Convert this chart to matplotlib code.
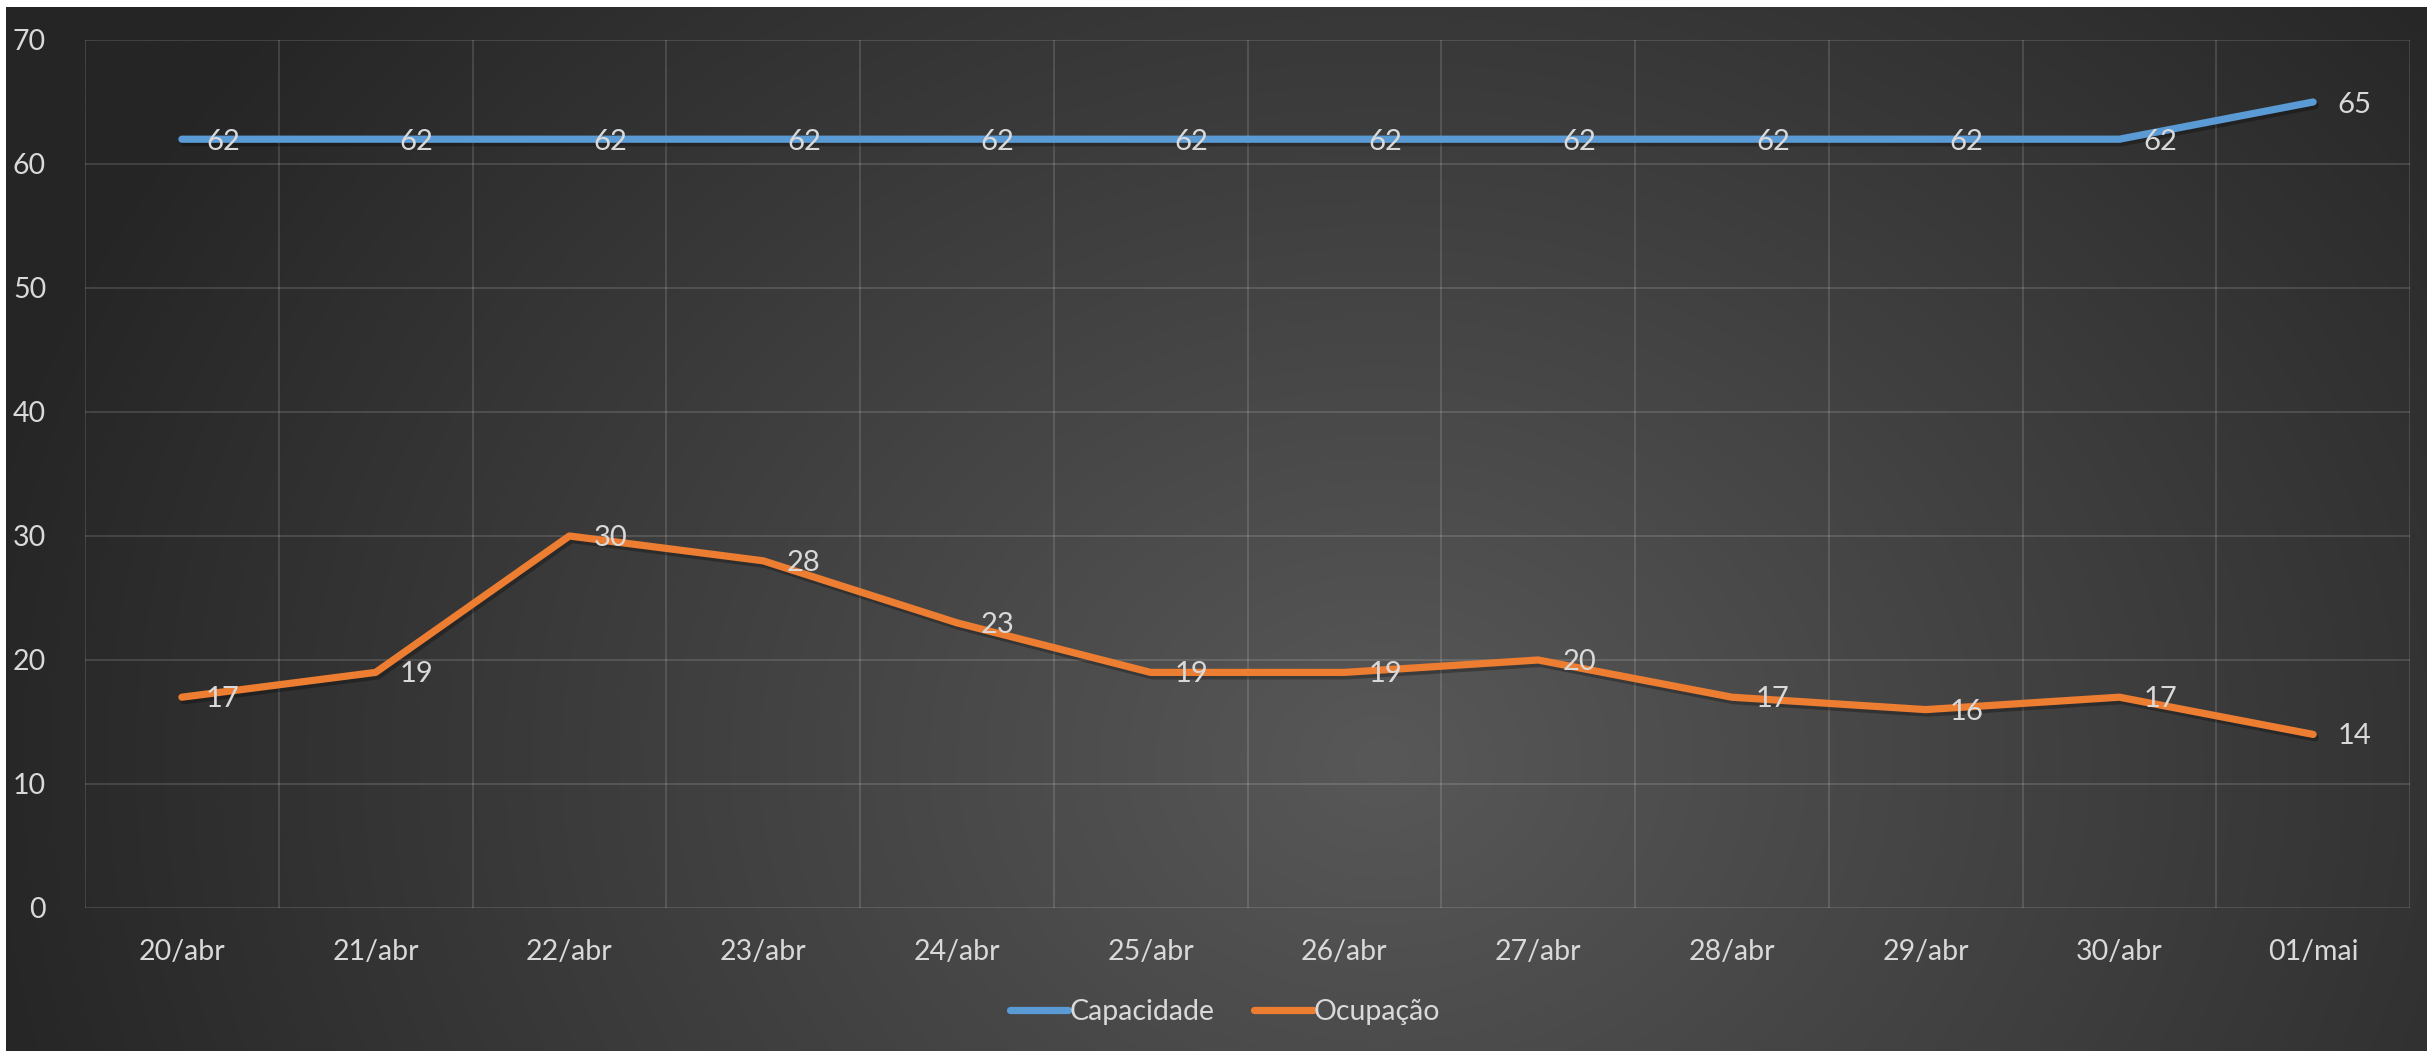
import numpy as np
import matplotlib
matplotlib.use("Agg")
import matplotlib.pyplot as plt
import matplotlib.patheffects as pe

categories = ["20/abr", "21/abr", "22/abr", "23/abr", "24/abr", "25/abr",
              "26/abr", "27/abr", "28/abr", "29/abr", "30/abr", "01/mai"]
capacidade = [62, 62, 62, 62, 62, 62, 62, 62, 62, 62, 62, 65]
ocupacao = [17, 19, 30, 28, 23, 19, 19, 20, 17, 16, 17, 14]
yticks = [0, 10, 20, 30, 40, 50, 60, 70]

plt.rcParams['font.family'] = ['Lato', 'DejaVu Sans']

W, H = 2427, 1051
DPI = 100
fig = plt.figure(figsize=(W / DPI, H / DPI), dpi=DPI, facecolor='white')

# radial gradient background (dark chart area, white strip top/left)
bg = fig.add_axes([6 / W, 0, (W - 6) / W, (H - 7) / H])
bg.set_axis_off()
ny, nx = 300, 700
yy, xx = np.mgrid[0:ny, 0:nx]
px = xx / (nx - 1) * W
py = yy / (ny - 1) * H
cx, cy = 1380, 760
rx, ry = 1450, 1200
r = np.sqrt(((px - cx) / rx) ** 2 + ((py - cy) / ry) ** 2)
f = np.clip(1 - r, 0, 1)
edge, center = 0x25 / 255, 0x58 / 255
val = edge + (center - edge) * f
img = np.dstack([val, val, val])
bg.imshow(img, aspect='auto', extent=[0, 1, 0, 1], origin='upper', interpolation='bilinear')
bg.set_xlim(0, 1)
bg.set_ylim(0, 1)

ax = fig.add_axes([85 / W, 143 / H, (2410 - 85) / W, (908 - 40) / H])
ax.patch.set_alpha(0)
x = np.arange(len(categories))
ax.set_xlim(-0.5, len(categories) - 0.5)
ax.set_ylim(0, 70)
for s in ax.spines.values():
    s.set_visible(False)

grid_c = (1, 1, 1, 0.13)
for yv in yticks:
    ax.axhline(yv, color=grid_c, lw=1.5, zorder=1)
for xv in np.arange(-0.5, len(categories), 1.0):
    ax.axvline(xv, color=grid_c, lw=1.5, zorder=1)

shadow = [pe.SimpleLineShadow(offset=(1.5, -2.5), shadow_color='black', alpha=0.28), pe.Normal()]
blue = '#5B9BD5'
orange = '#ED7D31'
l1, = ax.plot(x, capacidade, color=blue, lw=5.2, solid_capstyle='round', solid_joinstyle='round',
              zorder=3, path_effects=shadow, label='Capacidade')
l2, = ax.plot(x, ocupacao, color=orange, lw=5.2, solid_capstyle='round', solid_joinstyle='round',
              zorder=3, path_effects=shadow, label='Ocupação')

txt_c = '#D9D9D9'
for xi, v in zip(x, capacidade):
    ax.annotate(str(v), (xi, v), xytext=(24, -3), textcoords='offset pixels',
                ha='left', va='center', fontsize=21, color=txt_c, zorder=5)
for xi, v in zip(x, ocupacao):
    ax.annotate(str(v), (xi, v), xytext=(24, -2), textcoords='offset pixels',
                ha='left', va='center', fontsize=21, color=txt_c, zorder=5)

ax.set_xticks(x)
ax.set_xticklabels(categories)
ax.set_yticks(yticks)
ax.tick_params(axis='both', length=0, labelsize=20.5, labelcolor=txt_c)
ax.tick_params(axis='x', pad=22)
ax.tick_params(axis='y', pad=28)

leg = fig.legend(handles=[l1, l2], loc='center', bbox_to_anchor=(1225 / W, 1 - 1012 / H),
                 ncol=2, frameon=False, fontsize=20.5, labelcolor=txt_c, handlelength=2.05,
                 handletextpad=0.05, columnspacing=1.4)
for h in leg.legend_handles:
    h.set_path_effects([])
    h.set_linewidth(5.2)

fig.savefig('out.png', dpi=DPI, facecolor='white')
